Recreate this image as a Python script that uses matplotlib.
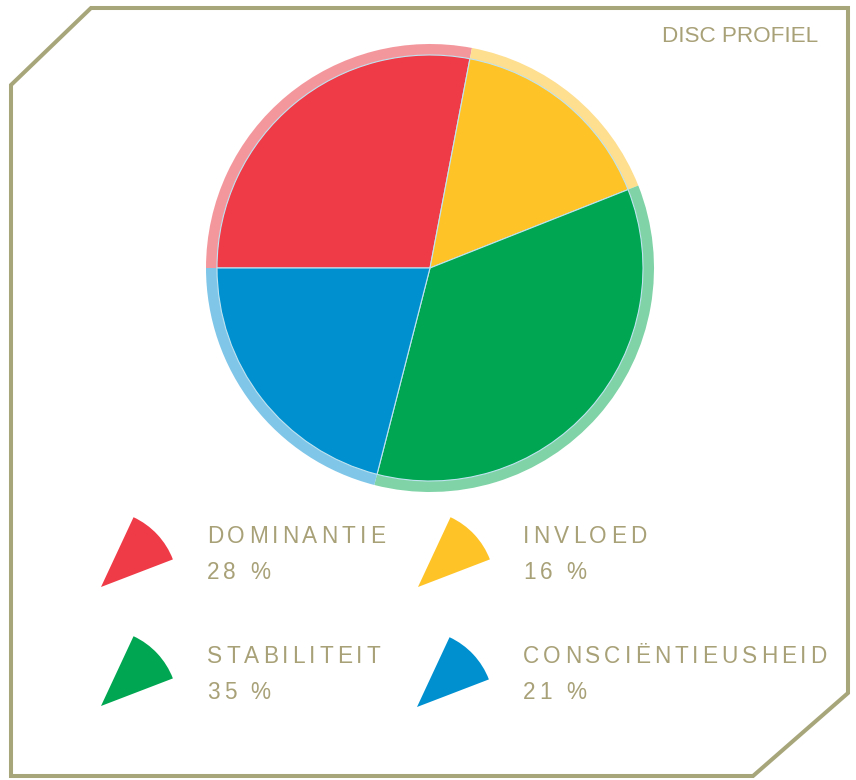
import matplotlib
matplotlib.use('Agg')
import matplotlib.pyplot as plt
from matplotlib.patches import Wedge, Polygon
from matplotlib.font_manager import FontProperties

# 데이터
labels = ['DOMINANTIE', 'INVLOED', 'STABILITEIT', 'CONSCIËNTIEUSHEID']
values = [28, 16, 35, 21]
colors = ['#EF3A47', '#FEC327', '#00A651', '#0090D0']
ring_colors = ['#F4979D', '#FEDE8F', '#7FD3A6', '#7FC6E9']

W, H = 856, 780
OLIVE = '#A7A57A'
TEXT = '#A8A178'
FONT = 'Liberation Sans'

fig = plt.figure(figsize=(W / 100, H / 100), dpi=100)
ax = fig.add_axes([0, 0, 1, 1])
ax.set_xlim(0, W)
ax.set_ylim(0, H)
ax.set_aspect('equal')
ax.axis('off')


def py(y):
    # 픽셀 좌표(위에서 아래) -> 데이터 좌표
    return H - y


# 테두리 (모서리 잘린 사각형)
frame = [(91, 8), (848, 8), (848, 693), (753, 776), (11, 776), (11, 85)]
ax.add_patch(Polygon([(x, py(y)) for x, y in frame], closed=True,
                     fill=False, edgecolor=OLIVE, linewidth=2.9, joinstyle='miter'))

ax.text(818, py(42), 'DISC PROFIEL', fontsize=16.2, color=TEXT, family=FONT,
        ha='right', va='baseline')

# 파이 차트: 바깥 링 + 안쪽 파이
center = (430, py(268))
ax.pie(values, colors=ring_colors, startangle=180, counterclock=False,
       radius=224, center=center, wedgeprops=dict(width=12, linewidth=0))
ax.pie(values, colors=colors, startangle=180, counterclock=False,
       radius=213, center=center,
       wedgeprops=dict(linewidth=0.8, edgecolor='#BFE3F0'))
ax.set_xlim(0, W)
ax.set_ylim(0, H)

fig.canvas.draw()
renderer = fig.canvas.get_renderer()


def spaced_text(x, y, s, size, spacing):
    # 자간을 넓힌 텍스트를 글자 단위로 그림
    prop = FontProperties(family=FONT, size=size)
    px_per_pt = fig.dpi / 72.0
    for ch in s:
        ax.text(x, y, ch, fontproperties=prop, color=TEXT, ha='left', va='baseline')
        if ch == ' ':
            w = 0.278 * size * px_per_pt
        else:
            w, _, _ = renderer.get_text_width_height_descent(ch, prop, ismath=False)
        x += w + spacing


# 범례
tips = [(101, 587), (418, 587), (101, 706), (417, 707)]
text_x = [207, 523, 207, 523]
title_base = [543, 543, 663, 663]
pct_base = [579, 579, 699, 699]

for i in range(len(labels)):
    tx, ty = tips[i]
    ax.add_patch(Wedge((tx, py(ty)), 77, 21, 65, facecolor=colors[i], linewidth=0))
    spaced_text(text_x[i], py(title_base[i]), labels[i], 16.3, 4.0)
    spaced_text(text_x[i], py(pct_base[i]), f'{values[i]} %', 16.3, 4.0)

fig.savefig('out.png', dpi=100, facecolor='white')
